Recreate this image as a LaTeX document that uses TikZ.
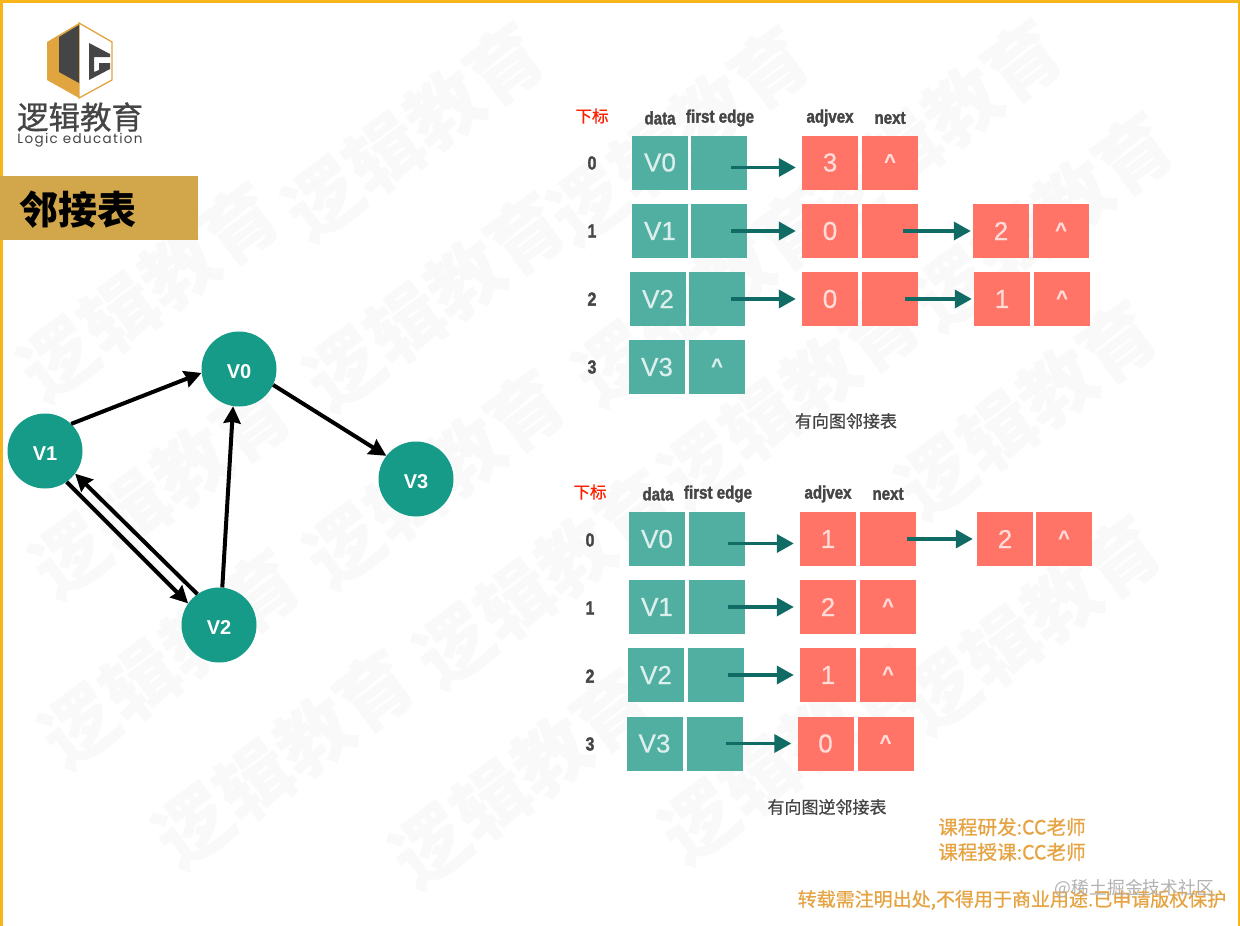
\documentclass[tikz,border=0pt]{standalone}
\usepackage{fontspec}
\setmainfont{Liberation Sans}
\newfontfamily\cjk{Noto Sans CJK SC}
\newfontfamily\cjkmed[FakeBold=0.7]{Noto Sans CJK SC}
\newfontfamily\condfont[FakeStretch=0.84,FakeBold=1.6,UprightFont=* Bold]{Liberation Sans}
\newfontfamily\boxfont[FakeBold=0.6]{Liberation Sans}
\newfontfamily\logofont[LetterSpace=10]{Poppins}
\usetikzlibrary{positioning, arrows.meta}
\definecolor{tealbox}{HTML}{51AFA2}
\definecolor{tealdark}{HTML}{0F6B63}
\definecolor{tealvert}{HTML}{169B89}
\definecolor{salmon}{HTML}{FF7466}
\definecolor{ochre}{HTML}{D2A64B}
\definecolor{logoorange}{HTML}{E0A53F}
\definecolor{footer}{HTML}{E6A342}
\definecolor{frameline}{HTML}{F7B519}
\definecolor{inktext}{HTML}{454545}
\tikzset{
>={Stealth[inset=1.5pt,length=17pt,width=17pt]},
}
\tikzstyle{databox} = [rectangle, fill=tealbox, text=white!80!tealbox, minimum width=56pt, minimum height=54pt,
    inner sep=0pt, font=\boxfont\fontsize{26}{26}\selectfont]
\tikzstyle{adjbox} = [rectangle, fill=salmon, text=white!75!salmon, minimum width=56pt, minimum height=54pt,
    inner sep=0pt, font=\boxfont\fontsize{26}{26}\selectfont]
\tikzstyle{vert} = [circle, fill=tealvert, text=white, minimum size=75pt, inner sep=0pt, text height=19pt, text depth=0pt,
    font=\bfseries\fontsize{20}{20}\selectfont]
\tikzstyle{head} = [text=inktext, inner sep=0pt, font=\condfont\fontsize{18}{18}\selectfont]
\tikzstyle{rowindex} = [text=inktext, inner sep=0pt, font=\condfont\fontsize{19}{19}\selectfont]
\tikzstyle{rowtitle} = [text=red!75!orange, inner sep=0pt, font=\cjkmed\fontsize{16.5}{16.5}\selectfont]
\tikzstyle{tablename} = [text=inktext, inner sep=0pt, font=\cjkmed\fontsize{17}{17}\selectfont]
\tikzstyle{footnote} = [text=footer, inner sep=0pt, font=\cjkmed\fontsize{19.6}{19.6}\selectfont]
\tikzstyle{watermark} = [text=black!2.5, inner sep=0pt, rotate=36.7, font=\cjk\bfseries\fontsize{75}{75}\selectfont]
\tikzstyle{line} = [draw, line width=4pt, black, ->]
\tikzstyle{link} = [draw, line width=3.5pt, tealdark, -{Triangle[length=17pt,width=18pt]}]
\newcommand{\nil}{\raisebox{3pt}{\bfseries\fontsize{20}{20}\selectfont\^{}}}

\begin{document}
\begin{tikzpicture}[x=1pt, y=-1pt]
\useasboundingbox (0,0) rectangle (1240,926);
\fill [white] (0,0) rectangle (1240,926);

% watermark
\foreach \i/\x/\y in {1/322/200, 2/587/204, 3/840/197, 4/57/360, 5/343/370, 6/612/365, 7/951/290, 8/69/557,
    9/343/547, 10/698/467, 11/935/478, 12/78/727, 13/453/647, 14/939/693, 15/192/827, 16/429/847, 17/698/823}
  \node [watermark] (wm\i) at ({\x+92},{\y-68.5}) {逻辑教育};

% frame
\draw [frameline, line width=5pt] (0,926) -- (0,0) -- (1240,0) -- (1240,926);

% logo
\fill [logoorange] (79,23) -- (47,42) -- (47,80) -- (79,98) -- cycle;
\draw [logoorange, line width=1.3pt, fill=white] (79,23) -- (112,42) -- (112,80) -- (79,98) -- cycle;
\fill [inktext] (59,37) -- (79,25) -- (79,83) -- (59,72) -- cycle;
\fill [inktext] (89,43) -- (110,54) -- (110,57) -- (94,57) -- (94,72) -- (99,70) -- (99,63) -- (110,63) -- (110,69) -- (89,80) -- cycle;
\node [text=inktext, inner sep=0pt, font=\cjkmed\fontsize{31.5}{31.5}\selectfont] (logo) at (80,117) {逻辑教育};
\node [text=inktext, inner sep=0pt, font=\logofont\fontsize{13.5}{13.5}\selectfont] (logoen) at (80,140) {Logic education};

% banner
\fill [ochre] (0,176) rectangle (198,240);
\node [text=black, inner sep=0pt, font=\cjk\bfseries\fontsize{39}{39}\selectfont] (banner) at (78,210) {邻接表};

% graph
\node [vert] (V0) at (239,369) {V0};
\node [vert] (V1) at (45,451) {V1};
\node [vert] (V2) at (219,625) {V2};
\node [vert] (V3) at (416,479) {V3};

\path [line] (V1.46) -- (V0.186);
\path [line] (V0.-25) -- (V3.142);
\path [line] (V2.85) -- (V0.261);
\path [line] (V1.-55) -- (V2.145);
\path [line] (V2.125) -- (V1.-37);

% first table
\node [rowtitle] (t0) at (592,116) {下标};
\node [head] (hd0) at (660,118) {data};
\node [head] (hf0) at (720,118) {first edge};
\node [head] (ha0) at (830,118) {adjvex};
\node [head] (hn0) at (890,118) {next};

\node [rowindex] (i0) at (592,163) {0};
\node [rowindex] (i1) at (592,231) {1};
\node [rowindex] (i2) at (592,299) {2};
\node [rowindex] (i3) at (592,367) {3};

\node [databox] (d0) at (660,162.5) {V0};
\node [databox, right of=d0, node distance=59pt] (f0) {};
\node [adjbox] (a0) at (830,162.5) {3};
\node [adjbox, right of=a0, node distance=60pt] (n0) {\nil};

\node [databox] (d1) at (660,231) {V1};
\node [databox, right of=d1, node distance=59pt] (f1) {};
\node [adjbox] (a1) at (830,231) {0};
\node [adjbox, right of=a1, node distance=60pt] (n1) {};
\node [adjbox] (b1) at (1001,231) {2};
\node [adjbox, right of=b1, node distance=60pt] (c1) {\nil};

\node [databox] (d2) at (658,299) {V2};
\node [databox, right of=d2, node distance=59pt] (f2) {};
\node [adjbox] (a2) at (830,299) {0};
\node [adjbox, right of=a2, node distance=60pt] (n2) {};
\node [adjbox] (b2) at (1002,299) {1};
\node [adjbox, right of=b2, node distance=60pt] (c2) {\nil};

\node [databox] (d3) at (657,367) {V3};
\node [databox, right of=d3, node distance=60pt] (f3) {\nil};

\path [link] ([shift={(-16,5)}]f0.east) -- ([shift={(-6,5)}]a0.west);
\path [link] ([shift={(-16,0)}]f1.east) -- ([shift={(-6,0)}]a1.west);
\path [link] ([shift={(-14,0)}]f2.east) -- ([shift={(-6,0)}]a2.west);
\path [link] ([shift={(-15,0)}]n1.east) -- ([shift={(-2,0)}]b1.west);
\path [link] ([shift={(-13,0)}]n2.east) -- ([shift={(-2,0)}]b2.west);

\node [tablename] (cap0) at (846,421) {有向图邻接表};

% second table
\node [rowtitle] (t1) at (590,492) {下标};
\node [head] (hd1) at (658,494) {data};
\node [head] (hf1) at (718,494) {first edge};
\node [head] (ha1) at (828,494) {adjvex};
\node [head] (hn1) at (888,494) {next};

\node [rowindex] (j0) at (590,540) {0};
\node [rowindex] (j1) at (590,608) {1};
\node [rowindex] (j2) at (590,676) {2};
\node [rowindex] (j3) at (590,744) {3};

\node [databox] (e0) at (657,539) {V0};
\node [databox, right of=e0, node distance=60pt] (g0) {};
\node [adjbox] (p0) at (828,539) {1};
\node [adjbox, right of=p0, node distance=60pt] (q0) {};
\node [adjbox] (r0) at (1005,539) {2};
\node [adjbox, right of=r0, node distance=59pt] (s0) {\nil};

\node [databox] (e1) at (657,607) {V1};
\node [databox, right of=e1, node distance=60pt] (g1) {};
\node [adjbox] (p1) at (828,607) {2};
\node [adjbox, right of=p1, node distance=60pt] (q1) {\nil};

\node [databox] (e2) at (656,675) {V2};
\node [databox, right of=e2, node distance=60pt] (g2) {};
\node [adjbox] (p2) at (828,675) {1};
\node [adjbox, right of=p2, node distance=60pt] (q2) {\nil};

\node [databox] (e3) at (654.5,743.5) {V3};
\node [databox, right of=e3, node distance=60pt] (g3) {};
\node [adjbox] (p3) at (825.5,743.5) {0};
\node [adjbox, right of=p3, node distance=60pt] (q3) {\nil};

\path [link] ([shift={(-17,4.5)}]g0.east) -- ([shift={(-6,4.5)}]p0.west);
\path [link] ([shift={(-17,0)}]g1.east) -- ([shift={(-6,0)}]p1.west);
\path [link] ([shift={(-16,0)}]g2.east) -- ([shift={(-6,0)}]p2.west);
\path [link] ([shift={(-17,0)}]g3.east) -- ([shift={(-6,0)}]p3.west);
\path [link] ([shift={(-9,0)}]q0.east) -- ([shift={(-4,0)}]r0.west);

\node [tablename] (cap1) at (827,807) {有向图逆邻接表};

% footer
\node [footnote] (n_a) at (1012,827) {课程研发:CC老师};
\node [footnote] (n_b) at (1012,852) {课程授课:CC老师};
\node [footnote, font=\cjkmed\fontsize{19}{19}\selectfont] (n_c) at (1012,900) {转载需注明出处,不得用于商业用途.已申请版权保护};
\node [text=black!30, inner sep=0pt, font=\cjk\fontsize{17.8}{17.8}\selectfont] (stamp) at (1134.5,888) {@稀土掘金技术社区};
\end{tikzpicture}
\end{document}
